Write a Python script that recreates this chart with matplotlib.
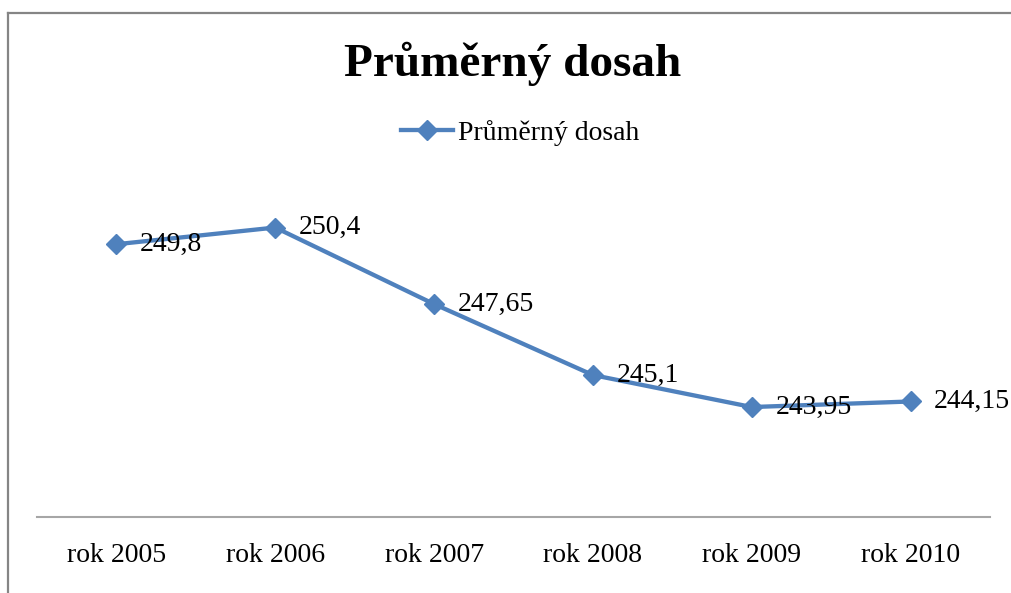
import matplotlib
matplotlib.use("Agg")
import matplotlib.pyplot as plt
from matplotlib.lines import Line2D

# data
roky = ["rok 2005", "rok 2006", "rok 2007", "rok 2008", "rok 2009", "rok 2010"]
dosah = [249.8, 250.4, 247.65, 245.1, 243.95, 244.15]
popisky = ["249,8", "250,4", "247,65", "245,1", "243,95", "244,15"]

plt.rcParams['font.family'] = ['Liberation Serif', 'DejaVu Serif']
modra = '#4F81BD'

fig = plt.figure(figsize=(10.11, 5.93), dpi=100)
ax = fig.add_axes([0.0366, 0.1282, 0.9426, 0.5632])

x = list(range(len(roky)))
ax.plot(x, dosah, color=modra, lw=3.1, marker='D', ms=10.5, label="Průměrný dosah")
for xi, yi, t in zip(x, dosah, popisky):
    ax.annotate(t, (xi, yi), xytext=(17, 0), textcoords='offset points',
                ha='left', va='center', fontsize=20, color='black')

ax.set_xlim(-0.5, 5.5)
ax.set_ylim(240, 252)
ax.set_xticks(x)
ax.set_xticklabels(roky, fontsize=20)
ax.set_yticks([])
ax.tick_params(axis='x', length=0, pad=19)
for s in ['top', 'right', 'left']:
    ax.spines[s].set_visible(False)
ax.spines['bottom'].set_color('#a6a6a6')
ax.spines['bottom'].set_linewidth(1.5)
ax.patch.set_alpha(0)

fig.text(0.507, 0.892, "Průměrný dosah", ha='center', va='center',
         fontsize=34, fontweight='bold')
fig.legend(loc='center', bbox_to_anchor=(0.514, 0.776), frameon=False,
           fontsize=20, handlelength=1.9, handletextpad=0.15)

# chart border (top and left edges visible)
fig.add_artist(Line2D([8/1011, 1.0], [1 - 13/593, 1 - 13/593], transform=fig.transFigure,
                      color='#858585', lw=1.6))
fig.add_artist(Line2D([8/1011, 8/1011], [1 - 13/593, 0], transform=fig.transFigure,
                      color='#858585', lw=1.6))

fig.savefig("out.png", dpi=100)
